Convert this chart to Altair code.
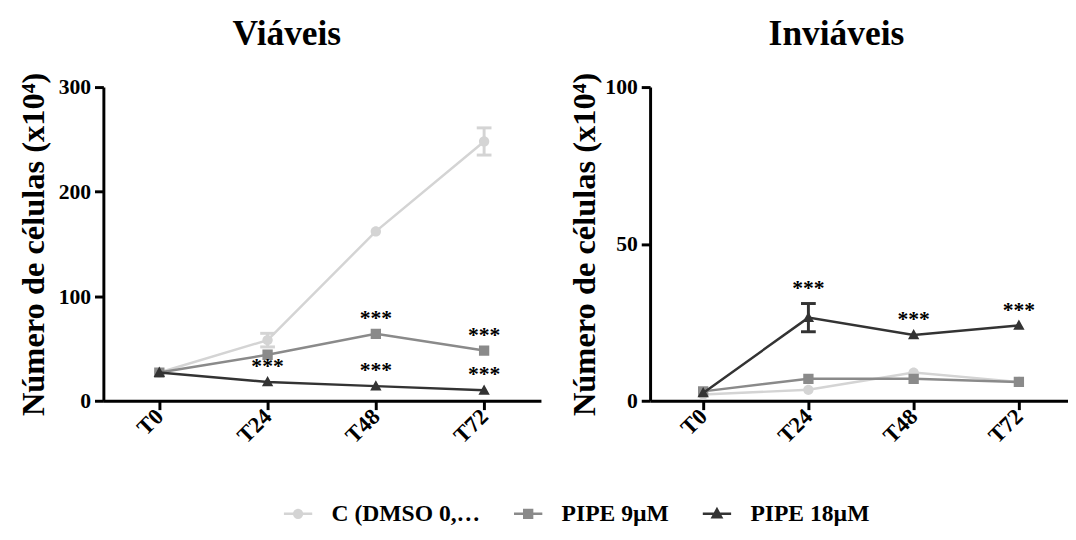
import altair as alt
import pandas as pd

# ---------------- data ----------------
times = ["T0", "T24", "T48", "T72"]
hours = [0, 24, 48, 72]
series = ["C (DMSO 0,1%)", "PIPE 9µM", "PIPE 18µM"]
colors = ["#d4d4d4", "#8a8a8a", "#333333"]

# Viáveis
via_c = [27, 58, 162, 248]
via_c_err = [0, 6.5, 0, 13]
via_p9 = [27, 44, 64, 48]
via_p9_err = [0, 0, 0, 0]
via_p18 = [27, 18, 14, 10]
via_p18_err = [0, 0, 0, 0]

# Inviáveis
inv_c = [2, 3.5, 9, 6]
inv_c_err = [0, 0, 0, 0]
inv_p9 = [3, 7, 7, 6]
inv_p9_err = [0, 0, 0, 0]
inv_p18 = [2.5, 26.5, 21, 24]
inv_p18_err = [0, 4.5, 0, 0]

# significance marks (series, time)
via_star_series = ["PIPE 9µM", "PIPE 9µM", "PIPE 18µM", "PIPE 18µM", "PIPE 18µM"]
via_star_times = ["T48", "T72", "T24", "T48", "T72"]
inv_star_series = ["PIPE 18µM", "PIPE 18µM", "PIPE 18µM"]
inv_star_times = ["T24", "T48", "T72"]
star_label = "***"

# ---------------- styling ----------------
FONT = "Liberation Serif"
LINE = "M-3.6,0H3.6"
shape_paths = [
    "M1,0A1,1,0,1,1,-1,0A1,1,0,1,1,1,0Z" + LINE,
    "M-1,-1H1V1H-1Z" + LINE,
    "M0,-1.15L1.1,0.85H-1.1Z" + LINE,
]


def make_df(vals, errs):
    rows = []
    for s, v_list, e_list in zip(series, vals, errs):
        for t, h, v, e in zip(times, hours, v_list, e_list):
            rows.append({"series": s, "time": t, "hour": h, "value": v,
                         "err": e, "lo": v - e, "hi": v + e})
    return pd.DataFrame(rows)


def make_stars(df, s_list, t_list):
    rows = []
    for s, t in zip(s_list, t_list):
        r = df[(df.series == s) & (df.time == t)].iloc[0]
        rows.append({"hour": r["hour"], "ypos": r["hi"], "label": star_label})
    return pd.DataFrame(rows)


via_df = make_df([via_c, via_p9, via_p18], [via_c_err, via_p9_err, via_p18_err])
inv_df = make_df([inv_c, inv_p9, inv_p18], [inv_c_err, inv_p9_err, inv_p18_err])
via_stars = make_stars(via_df, via_star_series, via_star_times)
inv_stars = make_stars(inv_df, inv_star_series, inv_star_times)

legend = alt.Legend(
    orient="none", direction="horizontal", legendX=186, legendY=422,
    labelFont=FONT, labelFontSize=24, labelFontWeight="bold", labelColor="black",
    symbolSize=64, symbolOpacity=1, symbolStrokeWidth=2.5,
    labelOffset=22, columnPadding=28, padding=0,
)

color_scale = alt.Scale(domain=series, range=colors)
shape_scale = alt.Scale(domain=series, range=shape_paths)


def panel(df, stars, title, ymax, yvals, width, xdom, title_pad, title_dx,
          with_legend):
    xs = alt.Scale(domain=xdom, nice=False, zero=False)
    xa = alt.Axis(values=hours, labelExpr="'T' + datum.value", labelAngle=315,
                  labelAlign="right", labelBaseline="middle", labelPadding=3,
                  labelFontSize=23, title=None)
    ys = alt.Scale(domain=[0, ymax], nice=False)
    ya = alt.Axis(values=yvals, title="Número de células (x10⁴)",
                  titlePadding=title_pad)
    x = alt.X("hour:Q", scale=xs, axis=xa)
    layers = []
    for i, s in enumerate(series):
        sub = df[df.series == s]
        errs = sub[sub.err > 0]
        base = alt.Chart(sub)
        layers.append(base.mark_line(strokeWidth=2.5, color=colors[i]).encode(
            x=x, y=alt.Y("value:Q", scale=ys, axis=ya)))
        if len(errs):
            eb = alt.Chart(errs)
            layers.append(eb.mark_rule(strokeWidth=3, color=colors[i]).encode(
                x=x, y=alt.Y("lo:Q", scale=ys, axis=ya), y2="hi:Q"))
            for f in ["lo", "hi"]:
                layers.append(eb.mark_tick(orient="horizontal", size=15,
                                           thickness=3, opacity=1,
                                           color=colors[i]).encode(
                    x=x, y=alt.Y(f + ":Q", scale=ys, axis=ya)))
        layers.append(base.mark_point(filled=True, size=110, opacity=1,
                                      strokeWidth=0, fill=colors[i],
                                      shape=shape_paths[i]).encode(
            x=x, y=alt.Y("value:Q", scale=ys, axis=ya)))
    layers.append(alt.Chart(stars).mark_text(
        font=FONT, fontSize=22, fontWeight="bold", color="black",
        baseline="alphabetic", align="center", dy=-9).encode(
        x=x, y=alt.Y("ypos:Q", scale=ys, axis=ya), text="label:N"))
    if with_legend:
        # invisible layer whose only purpose is the legend (line + marker symbols)
        layers.append(alt.Chart(df).mark_point(
            filled=True, size=64, opacity=0, strokeWidth=2.5).encode(
            x=x, y=alt.Y("value:Q", scale=ys, axis=ya),
            fill=alt.Fill("series:N", scale=color_scale, legend=legend, title=None),
            stroke=alt.Stroke("series:N", scale=color_scale, legend=legend, title=None),
            shape=alt.Shape("series:N", scale=shape_scale, legend=legend, title=None)))
    return alt.layer(*layers).properties(
        width=width, height=319,
        title=alt.TitleParams(title, font=FONT, fontSize=36, fontWeight="bold",
                              color="black", anchor="middle", baseline="alphabetic",
                              offset=-8, dx=title_dx),
    )


left = panel(via_df, via_stars, "Viáveis", 300, [0, 100, 200, 300], 445,
             [-12.4, 84.6], 8, -36, True)
right = panel(inv_df, inv_stars, "Inviáveis", 100, [0, 50, 100], 425,
              [-12.1, 83.2], 4, -23, False)

chart = alt.hconcat(left, right, spacing=27).properties(
    padding={"left": 9, "top": 3, "right": 0, "bottom": 0}
).configure_view(stroke=None).configure_axis(
    domainWidth=3, domainColor="black", tickColor="black", tickWidth=3,
    tickSize=9, labelFont=FONT, labelFontSize=22, labelFontWeight="bold",
    labelColor="black", titleFont=FONT, titleFontSize=33, titleFontWeight="bold",
    titleColor="black", grid=False, labelPadding=4,
)

chart.save("out.html", embed_options={"renderer": "svg", "actions": False})
